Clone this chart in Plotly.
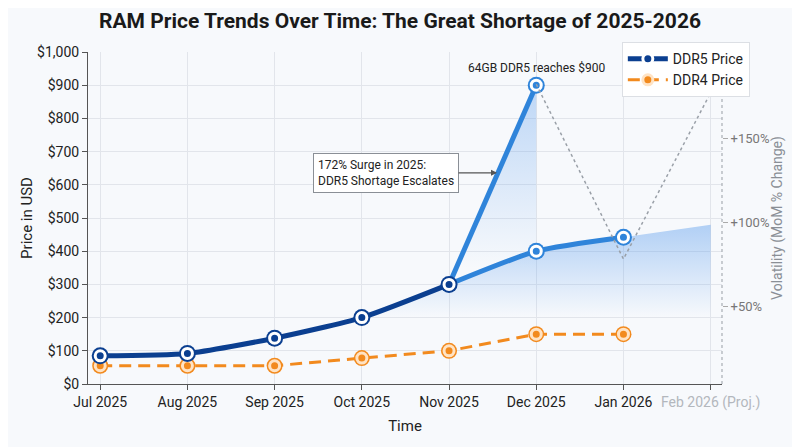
import plotly.graph_objects as go

months = ["Jul 2025", "Aug 2025", "Sep 2025", "Oct 2025", "Nov 2025",
          "Dec 2025", "Jan 2026", "Feb 2026 (Proj.)"]
ddr5_price = [85, 92, 138, 200, 300, 400, 442]
ddr4_price = [55, 55, 55, 78, 100, 150, 150]
ddr5_peak = [300, 900]          # Nov -> Dec, 64GB kit spike
ddr5_proj = 480                 # Feb 2026 projection
volatility = [182, 78, 177]     # MoM % change, Dec -> Feb

x = list(range(len(months)))
DARK = "#0b3f90"
BLUE = "#2f84da"
ORANGE = "#f28a1e"
FONT = "Roboto"

fig = go.Figure()

# shaded areas
fig.add_trace(go.Scatter(
    x=x[3:], y=ddr5_price[3:] + [ddr5_proj], mode="none", fill="tozeroy",
    fillgradient=dict(type="vertical", start=200, stop=480,
                      colorscale=[[0, "rgba(80,150,235,0)"], [1, "rgba(80,150,235,0.42)"]]),
    showlegend=False, hoverinfo="skip"))
fig.add_trace(go.Scatter(
    x=x[4:6], y=ddr5_peak, mode="none", fill="tozeroy",
    fillgradient=dict(type="vertical", start=350, stop=900,
                      colorscale=[[0, "rgba(80,150,235,0)"], [1, "rgba(80,150,235,0.35)"]]),
    showlegend=False, hoverinfo="skip"))

# volatility (secondary axis)
fig.add_trace(go.Scatter(
    x=x[5:8], y=volatility, yaxis="y2", mode="lines",
    line=dict(color="#9aa0a8", width=1.5, dash="dot"),
    showlegend=False, hoverinfo="skip"))

# DDR5 spike + later segment
fig.add_trace(go.Scatter(x=x[4:6], y=ddr5_peak, mode="lines",
                         line=dict(color=BLUE, width=5), showlegend=False))
fig.add_trace(go.Scatter(x=x[4:7], y=ddr5_price[4:7], mode="lines",
                         line=dict(color=BLUE, width=5, shape="spline", smoothing=0.6),
                         showlegend=False))

# DDR4
fig.add_trace(go.Scatter(x=x[:7], y=ddr4_price, mode="markers",
                         marker=dict(size=16, color=ORANGE), showlegend=False))
fig.add_trace(go.Scatter(
    x=x[:7], y=ddr4_price, mode="lines+markers", name="DDR4 Price",
    line=dict(color=ORANGE, width=3, dash="12px,7px"),
    marker=dict(size=10, color=ORANGE, line=dict(color="#ffe3c4", width=3))))

# DDR5 early segment
fig.add_trace(go.Scatter(x=x[:5], y=ddr5_price[:5], mode="markers",
                         marker=dict(size=17, color=DARK), showlegend=False))
fig.add_trace(go.Scatter(
    x=x[:5], y=ddr5_price[:5], mode="lines+markers", name="DDR5 Price",
    line=dict(color=DARK, width=5, shape="spline", smoothing=0.6),
    marker=dict(size=10, color=DARK, line=dict(color="white", width=3))))

# DDR5 later markers
late_x = x[5:7] + [x[5]]
late_y = ddr5_price[5:7] + [ddr5_peak[1]]
fig.add_trace(go.Scatter(x=late_x, y=late_y, mode="markers",
                         marker=dict(size=17, color=BLUE), showlegend=False))
fig.add_trace(go.Scatter(x=late_x, y=late_y, mode="markers",
                         marker=dict(size=10, color=BLUE, line=dict(color="white", width=3)),
                         showlegend=False))

ticktext = months[:-1] + ['<span style="color:#b3b7bd">' + months[-1] + '</span>']

# the page adds an 8px body margin, so the figure is sized to the visible area
fig.update_layout(
    width=792, height=439,
    margin=dict(l=80, r=78, t=44, b=63, autoexpand=False),
    paper_bgcolor="#f7f9fc", plot_bgcolor="#f7f9fc",
    font=dict(family=FONT, size=13, color="#222"),
    title=dict(text="<b>RAM Price Trends Over Time: The Great Shortage of 2025-2026</b>",
               x=0.495, xref="container", y=0.971, yanchor="middle",
               font=dict(family=FONT, size=21, color="#1a1a1a")),
    xaxis=dict(range=[-0.14, 7.13], tickvals=x, ticktext=ticktext, automargin=False,
               showgrid=True, gridcolor="#e2e5eb", zeroline=False,
               showline=True, linecolor="#555", ticks="outside", ticklen=5,
               tickcolor="#555", tickfont=dict(size=14, color="#222"),
               title=dict(text="Time", font=dict(size=15), standoff=10)),
    yaxis=dict(range=[0, 1000], dtick=100, tickprefix="$", tickformat=",",
               automargin=False,
               showgrid=True, gridcolor="#e2e5eb", zeroline=False,
               showline=True, linecolor="#555", ticks="outside", ticklen=5,
               tickcolor="#555", tickfont=dict(size=14, color="#222"),
               title=dict(text="Price in USD", font=dict(size=15), standoff=0)),
    yaxis2=dict(overlaying="y", side="right", range=[3.6, 201.2], automargin=False,
                tickvals=[50, 100, 150], ticktext=["+50%", "+100%", "+150%"],
                showgrid=False, zeroline=False, showline=False,
                ticks="outside", ticklen=5, tickcolor="#aaa",
                tickfont=dict(size=13, color="#777"),
                title=dict(text="Volatility (MoM % Change)",
                           font=dict(size=14, color="#8a8f96"), standoff=0)),
    legend=dict(x=0.842, y=1.03, xanchor="left", yanchor="top",
                bgcolor="white", bordercolor="#dcdfe4", borderwidth=1,
                itemwidth=40, font=dict(size=14, color="#222"), traceorder="reversed"),
    shapes=[dict(type="line", xref="paper", yref="paper", x0=1, x1=1, y0=0, y1=1,
                 line=dict(color="#a8adb4", width=1.2, dash="dot"))],
    annotations=[
        dict(x=5, y=ddr5_peak[1], text="64GB DDR5 reaches $900", showarrow=False,
             yanchor="bottom", yshift=8, font=dict(size=12, color="#222")),
        dict(x=4.55, y=636, ax=-111, ay=0, showarrow=True, arrowhead=2,
             arrowsize=1, arrowwidth=1.2, arrowcolor="#555",
             text="172% Surge in 2025:<br>DDR5 Shortage Escalates", align="left",
             bgcolor="white", bordercolor="#8a8f96", borderwidth=1, borderpad=4,
             font=dict(size=12, color="#222")),
    ],
)

fig.write_html("out.html")
